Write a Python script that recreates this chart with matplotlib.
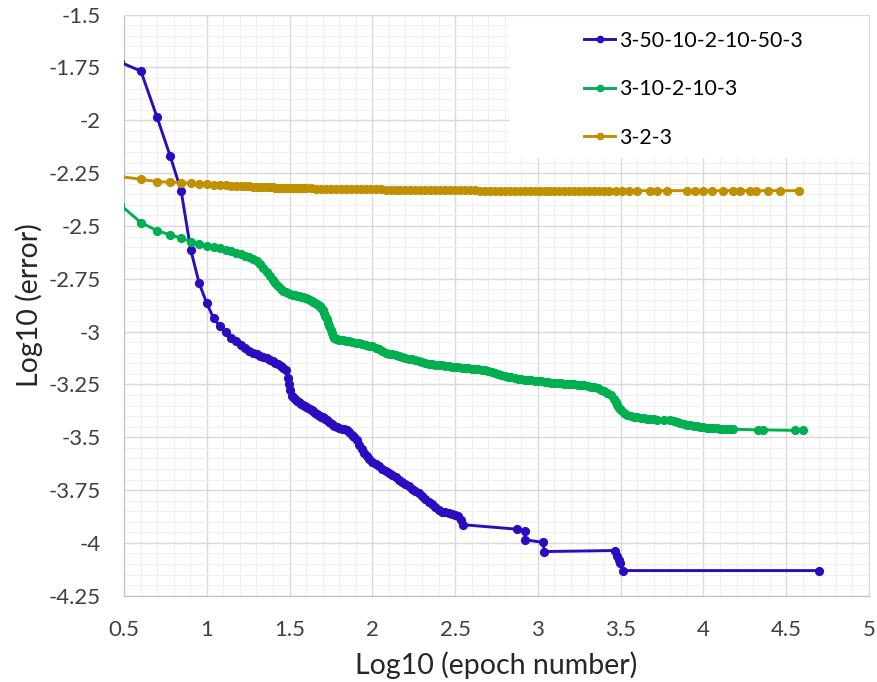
import matplotlib
matplotlib.use("Agg")
import matplotlib.pyplot as plt
from matplotlib.patches import Rectangle
from matplotlib.ticker import MultipleLocator, FuncFormatter

plt.rcParams['font.family'] = ['Lato', 'DejaVu Sans']

# log10(epoch) / log10(error)
labels = ["3-50-10-2-10-50-3", "3-10-2-10-3", "3-2-3"]
colors = ["#2B0CBF", "#00B050", "#BF9000"]

blue_x = [0.477, 0.602, 0.699, 0.778, 0.845, 0.903, 0.954, 1.0, 1.041, 1.079, 1.114, 1.146,
          1.176, 1.204, 1.23, 1.255, 1.279, 1.301, 1.322, 1.342, 1.362, 1.38, 1.398, 1.415,
          1.431, 1.447, 1.462, 1.477, 1.491, 1.497, 1.505, 1.512, 1.519, 1.531, 1.544, 1.556,
          1.568, 1.58, 1.591, 1.602, 1.613, 1.623, 1.633, 1.643, 1.653, 1.663, 1.672, 1.681,
          1.69, 1.699, 1.708, 1.716, 1.724, 1.74, 1.756, 1.771, 1.785, 1.80, 1.815, 1.83,
          1.845, 1.86, 1.875, 1.89, 1.905, 1.92, 1.935, 1.95, 1.965, 1.98, 2.0, 2.02, 2.04,
          2.06, 2.08, 2.1, 2.12, 2.14, 2.16, 2.18, 2.2, 2.22, 2.24, 2.26, 2.28, 2.3, 2.32,
          2.34, 2.36, 2.38, 2.4, 2.42, 2.44, 2.46, 2.48, 2.5, 2.519, 2.533, 2.549,
          2.872, 2.92, 2.922, 3.033, 3.037, 3.466, 3.476, 3.49, 3.496, 3.512, 4.70]
blue_y = [-1.725, -1.767, -1.984, -2.167, -2.333, -2.613, -2.771, -2.866, -2.937, -2.974,
          -3.003, -3.03, -3.045, -3.062, -3.077, -3.09, -3.101, -3.108, -3.114, -3.12,
          -3.126, -3.133, -3.14, -3.147, -3.155, -3.163, -3.172, -3.184, -3.22, -3.25,
          -3.278, -3.305, -3.31, -3.318, -3.327, -3.334, -3.341, -3.347, -3.352, -3.357,
          -3.362, -3.367, -3.372, -3.378, -3.383, -3.388, -3.393, -3.398, -3.402, -3.406,
          -3.41, -3.414, -3.418, -3.428, -3.438, -3.447, -3.453, -3.458, -3.46, -3.462,
          -3.465, -3.475, -3.487, -3.5, -3.515, -3.535, -3.555, -3.575, -3.591, -3.603,
          -3.615, -3.628, -3.638, -3.648, -3.658, -3.667, -3.677, -3.69, -3.703, -3.713,
          -3.723, -3.733, -3.743, -3.753, -3.766, -3.78, -3.792, -3.805, -3.816, -3.83,
          -3.845, -3.855, -3.856, -3.858, -3.862, -3.87, -3.875, -3.891, -3.914,
          -3.935, -3.942, -3.985, -3.998, -4.041, -4.036, -4.064, -4.08, -4.095, -4.131, -4.131]

green_x = [0.477, 0.602, 0.699, 0.778, 0.845, 0.903, 0.954, 1.0, 1.041, 1.079, 1.114, 1.146,
           1.176, 1.204, 1.23, 1.255, 1.279, 1.301, 1.322, 1.342, 1.362, 1.38, 1.398, 1.415,
           1.431, 1.447, 1.462, 1.477, 1.491, 1.505, 1.519, 1.531, 1.544, 1.556, 1.568, 1.58,
           1.591, 1.602, 1.613, 1.623, 1.633, 1.643, 1.653, 1.663, 1.672, 1.681, 1.69, 1.699,
           1.708, 1.716, 1.724, 1.732, 1.74, 1.748, 1.756, 1.763, 1.771, 1.778, 1.785, 1.80,
           1.82, 1.84, 1.86, 1.88, 1.90, 1.92, 1.94, 1.96, 1.98, 2.0, 2.02, 2.04, 2.06, 2.08,
           2.10, 2.12, 2.14, 2.16, 2.18, 2.20, 2.22, 2.24, 2.26, 2.28, 2.30, 2.32, 2.34, 2.36,
           2.38, 2.40, 2.42, 2.44, 2.46, 2.48, 2.50, 2.52, 2.54, 2.56, 2.58, 2.60, 2.62, 2.64,
           2.66, 2.68, 2.70, 2.72, 2.74, 2.76, 2.78, 2.80, 2.82, 2.84, 2.86, 2.88, 2.90, 2.92,
           2.94, 2.96, 2.98, 3.00, 3.02, 3.04, 3.06, 3.08, 3.10, 3.12, 3.14, 3.16, 3.18, 3.20,
           3.22, 3.24, 3.26, 3.28, 3.30, 3.32, 3.34, 3.36, 3.38, 3.40, 3.42, 3.44, 3.46, 3.47,
           3.48, 3.49, 3.50, 3.52, 3.54, 3.56, 3.58, 3.60, 3.62, 3.64, 3.66, 3.68, 3.70, 3.72,
           3.76, 3.80, 3.82, 3.84, 3.86, 3.88, 3.90, 3.92, 3.94, 3.96, 3.98, 4.00, 4.02, 4.04,
           4.06, 4.08, 4.10, 4.12, 4.14, 4.16, 4.18, 4.33, 4.361, 4.55, 4.603]
green_y = [-2.40, -2.484, -2.522, -2.542, -2.558, -2.574, -2.585, -2.593, -2.601, -2.606,
           -2.614, -2.62, -2.627, -2.633, -2.64, -2.647, -2.656, -2.666, -2.68, -2.70, -2.72,
           -2.738, -2.756, -2.772, -2.786, -2.797, -2.806, -2.813, -2.818, -2.822, -2.825,
           -2.828, -2.83, -2.832, -2.835, -2.837, -2.84, -2.842, -2.845, -2.849, -2.853,
           -2.858, -2.864, -2.87, -2.876, -2.881, -2.89, -2.9, -2.912, -2.925, -2.94, -2.958,
           -2.975, -2.992, -3.008, -3.022, -3.03, -3.034, -3.036, -3.039, -3.041, -3.043,
           -3.046, -3.049, -3.052, -3.056, -3.059, -3.062, -3.066, -3.07, -3.077, -3.084,
           -3.092, -3.099, -3.104, -3.108, -3.112, -3.117, -3.121, -3.125, -3.128, -3.132,
           -3.136, -3.14, -3.144, -3.148, -3.151, -3.154, -3.156, -3.158, -3.16, -3.162,
           -3.164, -3.166, -3.167, -3.168, -3.17, -3.172, -3.173, -3.175, -3.177, -3.179,
           -3.181, -3.184, -3.188, -3.192, -3.196, -3.2, -3.204, -3.209, -3.213, -3.217,
           -3.219, -3.222, -3.224, -3.227, -3.229, -3.231, -3.233, -3.235, -3.236, -3.238,
           -3.239, -3.241, -3.242, -3.243, -3.245, -3.246, -3.247, -3.249, -3.25, -3.251,
           -3.253, -3.255, -3.258, -3.26, -3.264, -3.268, -3.274, -3.282, -3.29, -3.302,
           -3.32, -3.332, -3.346, -3.36, -3.372, -3.386, -3.395, -3.399, -3.402, -3.405,
           -3.408, -3.411, -3.413, -3.414, -3.415, -3.416, -3.417, -3.419, -3.424, -3.428,
           -3.433, -3.437, -3.441, -3.444, -3.446, -3.448, -3.45, -3.452, -3.454, -3.455,
           -3.457, -3.458, -3.459, -3.46, -3.461, -3.462, -3.462, -3.465, -3.465, -3.467,
           -3.468]

gold_x = [0.477, 0.602, 0.699, 0.778, 0.845, 0.903, 0.954, 1.0, 1.041, 1.079, 1.114, 1.146,
          1.176, 1.204, 1.23, 1.255, 1.279, 1.301, 1.322, 1.342, 1.362, 1.38, 1.398, 1.415,
          1.431, 1.447, 1.462, 1.477, 1.491, 1.505, 1.519, 1.531, 1.544, 1.556, 1.568, 1.58,
          1.591, 1.602, 1.63, 1.66, 1.69, 1.72, 1.75, 1.78, 1.81, 1.84, 1.87, 1.90, 1.93,
          1.96, 1.99, 2.02, 2.05, 2.08, 2.11, 2.14, 2.17, 2.20, 2.23, 2.26, 2.29, 2.32, 2.35,
          2.38, 2.41, 2.44, 2.47, 2.50, 2.53, 2.56, 2.59, 2.62, 2.65, 2.68, 2.71, 2.74, 2.77,
          2.80, 2.83, 2.86, 2.89, 2.92, 2.95, 2.98, 3.01, 3.04, 3.07, 3.10, 3.13, 3.16, 3.19,
          3.22, 3.25, 3.28, 3.31, 3.34, 3.37, 3.40, 3.43, 3.47, 3.51, 3.55, 3.60, 3.68, 3.72,
          3.78, 3.90, 3.95, 4.00, 4.05, 4.12, 4.18, 4.22, 4.28, 4.32, 4.39, 4.46, 4.58]
gold_y = [-2.266, -2.279, -2.290, -2.293, -2.295, -2.298, -2.300, -2.303, -2.305, -2.306,
          -2.308, -2.309, -2.310, -2.311, -2.312, -2.313, -2.314, -2.314, -2.315, -2.316,
          -2.316, -2.317, -2.317, -2.318, -2.318, -2.319, -2.319, -2.319, -2.320, -2.320,
          -2.320, -2.321, -2.321, -2.321, -2.321, -2.322, -2.322, -2.322, -2.322, -2.323,
          -2.323, -2.323, -2.324, -2.324, -2.325, -2.325, -2.325, -2.326, -2.326, -2.326,
          -2.327, -2.327, -2.327, -2.328, -2.328, -2.328, -2.328, -2.329, -2.329, -2.329,
          -2.329, -2.330, -2.330, -2.330, -2.330, -2.331, -2.331, -2.331, -2.331, -2.331,
          -2.332, -2.332, -2.333, -2.333, -2.333, -2.333, -2.333, -2.333, -2.333, -2.333,
          -2.333, -2.333, -2.333, -2.333, -2.333, -2.333, -2.333, -2.333, -2.333, -2.333,
          -2.333, -2.333, -2.333, -2.333, -2.333, -2.333, -2.333, -2.333, -2.333, -2.333,
          -2.333, -2.333, -2.333, -2.333, -2.333, -2.333, -2.333, -2.333, -2.333, -2.333,
          -2.333, -2.333, -2.333, -2.333, -2.333, -2.333, -2.333, -2.333]

fig = plt.figure(figsize=(8.77, 6.82), dpi=100)
ax = fig.add_axes([0.1414, 0.1265, 0.8495, 0.852])

series = [(blue_x, blue_y), (green_x, green_y), (gold_x, gold_y)]
for (xs, ys), lab, col in zip(series, labels, colors):
    ax.plot(xs, ys, color=col, lw=2.1, marker='o', ms=5.6, label=lab, zorder=3)

ax.set_xlim(0.5, 5)
ax.set_ylim(-4.25, -1.5)
ax.xaxis.set_major_locator(MultipleLocator(0.5))
ax.xaxis.set_minor_locator(MultipleLocator(0.1))
ax.yaxis.set_major_locator(MultipleLocator(0.25))
ax.yaxis.set_minor_locator(MultipleLocator(0.05))
ax.xaxis.set_major_formatter(FuncFormatter(lambda v, p: f"{v:g}"))
ax.yaxis.set_major_formatter(FuncFormatter(lambda v, p: f"{v:g}"))
ax.grid(which='major', color='#D9D9D9', lw=1.0, zorder=0)
ax.grid(which='minor', color='#F0F0F0', lw=0.8, zorder=0)
ax.set_axisbelow(True)
ax.tick_params(which='both', length=0, labelsize=16, colors='#404040')
ax.tick_params(axis='y', pad=17)
ax.tick_params(axis='x', pad=17.5)
for s in ['top', 'right']:
    ax.spines[s].set_color('#D9D9D9')
for s in ['left', 'bottom']:
    ax.spines[s].set_color('#BFBFBF')

ax.set_xlabel("Log10 (epoch number)", fontsize=20.5, color='#262626', labelpad=8)
ax.set_ylabel("Log10 (error)", fontsize=20.5, color='#262626', labelpad=4)

# white legend area over the grid
ax.add_patch(Rectangle((0.518, 0.753), 0.482, 0.247, transform=ax.transAxes,
                       facecolor='white', edgecolor='none', zorder=1))
ax.legend(loc='upper left', bbox_to_anchor=(0.592, 1.005), frameon=False, fontsize=15.3,
          handlelength=1.45, handletextpad=0.2, labelspacing=1.34, markerscale=0.8)

fig.savefig("out.png", dpi=100)
